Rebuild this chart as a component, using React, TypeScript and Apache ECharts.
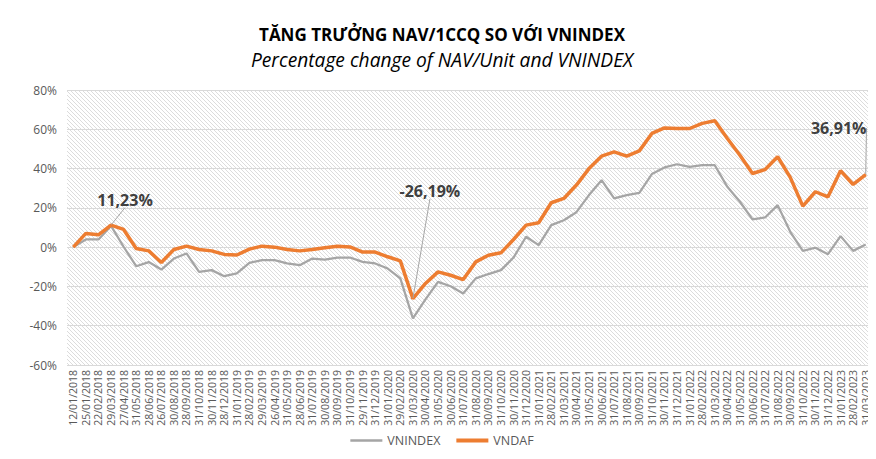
import React, { useEffect, useRef } from "react";
import * as echarts from "echarts";

const categories = [
  "12/01/2018","25/01/2018","22/02/2018","29/03/2018","27/04/2018","31/05/2018","28/06/2018","26/07/2018","30/08/2018","28/09/2018","31/10/2018","30/11/2018","28/12/2018",
  "31/01/2019","28/02/2019","29/03/2019","26/04/2019","31/05/2019","28/06/2019","31/07/2019","30/08/2019","30/09/2019","31/10/2019","29/11/2019","31/12/2019",
  "31/01/2020","29/02/2020","31/03/2020","30/04/2020","31/05/2020","30/06/2020","31/07/2020","31/08/2020","30/09/2020","31/10/2020","30/11/2020","31/12/2020",
  "31/01/2021","28/02/2021","31/03/2021","30/04/2021","31/05/2021","30/06/2021","31/07/2021","31/08/2021","30/09/2021","31/10/2021","30/11/2021","31/12/2021",
  "31/01/2022","28/02/2022","31/03/2022","30/04/2022","31/05/2022","30/06/2022","31/07/2022","31/08/2022","30/09/2022","31/10/2022","30/11/2022","31/12/2022",
  "31/01/2023","28/02/2023","31/03/2023",
];

const vnindex = [
  0, 3.9, 3.9, 10.8, 0.2, -9.7, -7.6, -11.4, -5.8, -3.2,
  -12.6, -11.7, -14.8, -13.4, -8.0, -6.6, -6.6, -8.3, -9.2, -5.8,
  -6.3, -5.3, -5.3, -7.5, -8.3, -10.9, -15.9, -36.3, -26.6, -17.7,
  -19.9, -23.6, -15.9, -13.7, -11.7, -5.3, 5.3, 1.0, 11.2, 13.7,
  17.8, 26.5, 34.1, 24.8, 26.5, 27.6, 37.2, 40.6, 42.2, 40.9,
  41.7, 41.7, 30.7, 23.1, 14.1, 15.1, 21.4, 7.8, -1.9, -0.3,
  -3.6, 5.6, -1.9, 1.4,
];

const vndaf = [
  0, 7.0, 6.3, 11.23, 9.0, -0.7, -1.9, -7.8, -1.2, 0.5,
  -1.2, -1.9, -3.7, -4.0, -1.0, 0.5, 0, -1.2, -1.9, -1.2,
  -0.3, 0.5, 0.1, -2.5, -2.5, -4.9, -7.0, -26.19, -18.5, -12.6,
  -14.3, -16.5, -7.5, -4.1, -2.9, 3.9, 11.2, 12.4, 22.6, 24.8,
  31.6, 40.0, 46.3, 48.5, 46.3, 49.0, 57.9, 60.7, 60.4, 60.4,
  63.0, 64.3, 55.3, 46.8, 37.5, 39.5, 46.0, 35.5, 20.9, 28.2,
  25.6, 38.9, 31.9, 36.91,
];

const labelledIdx = [3, 27, 63];

const yMin = -60;
const yMax = 80;
const yStep = 20;

const labelOffsets: Record<number, [number, number]> = {
  3: [14, -12],
  27: [17, -94],
  63: [-27, -33],
};

function fmt(v: number) {
  return v.toFixed(2).replace(".", ",") + "%";
}

function makePattern(): string {
  const c = document.createElement("canvas");
  c.width = 4;
  c.height = 4;
  const ctx = c.getContext("2d")!;
  ctx.fillStyle = "#ffffff";
  ctx.fillRect(0, 0, 4, 4);
  ctx.strokeStyle = "#dcdcdc";
  ctx.lineWidth = 1;
  ctx.beginPath();
  ctx.moveTo(-1, -1);
  ctx.lineTo(5, 5);
  ctx.moveTo(-1, 3);
  ctx.lineTo(1, 5);
  ctx.moveTo(3, -1);
  ctx.lineTo(5, 1);
  ctx.stroke();
  return c.toDataURL();
}

export default function App() {
  const ref = useRef<HTMLDivElement>(null);
  useEffect(() => {
    if (!ref.current) return;
    const chart = echarts.init(ref.current, null, { renderer: "svg" });
    const font = "'Open Sans', Calibri, sans-serif";
    const vndafData = vndaf.map((v, i) =>
      labelledIdx.includes(i)
        ? {
            value: v,
            symbol: "circle",
            symbolSize: 1,
            label: {
              show: true,
              position: "top",
              formatter: (p: any) => fmt(p.value),
              fontSize: 16,
              fontWeight: "bold",
              color: "#404040",
              fontFamily: font,
            },
            labelLine: { show: true, lineStyle: { color: "#a6a6a6", width: 1 } },
          }
        : v
    );
    chart.setOption({
      animation: false,
      backgroundColor: "#ffffff",
      textStyle: { fontFamily: font },
      title: [
        {
          text: "TĂNG TRƯỞNG NAV/1CCQ SO VỚI VNINDEX",
          left: "center",
          top: 13,
          textStyle: { fontSize: 17, fontWeight: "bold", color: "#000000", fontFamily: font },
        },
        {
          text: "Percentage change of NAV/Unit and VNINDEX",
          left: "center",
          top: 37,
          textStyle: { fontSize: 19.2, fontWeight: "normal", fontStyle: "italic", color: "#000000", fontFamily: font },
        },
      ],
      legend: {
        bottom: 7,
        left: "center",
        itemWidth: 32,
        itemHeight: 10,
        itemGap: 16,
        textStyle: { fontSize: 12.5, color: "#595959", fontFamily: font },
        data: [
          { name: "VNINDEX", icon: "path://M0,0 H32 V2.5 H0 Z" },
          { name: "VNDAF", icon: "path://M0,0 H32 V4 H0 Z" },
        ],
      },
      grid: {
        left: 59,
        right: 4,
        top: 82,
        bottom: 94,
        show: true,
        borderWidth: 0,
        backgroundColor: { image: makePattern(), repeat: "repeat" },
      },
      xAxis: {
        type: "category",
        data: categories,
        boundaryGap: true,
        axisLine: { show: false },
        axisTick: { show: false },
        axisLabel: {
          interval: 0,
          rotate: 90,
          fontSize: 10.5,
          color: "#595959",
          fontFamily: font,
          margin: 5,
        },
      },
      yAxis: {
        type: "value",
        min: yMin,
        max: yMax,
        interval: yStep,
        axisLine: { show: false },
        axisTick: { show: false },
        axisLabel: {
          formatter: "{value}%",
          fontSize: 12,
          color: "#595959",
          fontFamily: font,
          margin: 10,
        },
        splitLine: { lineStyle: { color: "#d9d9d9", width: 1 } },
      },
      series: [
        {
          name: "VNINDEX",
          type: "line",
          data: vnindex,
          symbol: "none",
          lineStyle: { color: "#a5a5a5", width: 2.25 },
          itemStyle: { color: "#a5a5a5" },
          z: 2,
        },
        {
          name: "VNDAF",
          type: "line",
          data: vndafData,
          symbol: "none",
          showSymbol: true,
          lineStyle: { color: "#ed7d31", width: 3.5 },
          itemStyle: { color: "#ed7d31" },
          labelLine: { show: true, lineStyle: { color: "#a6a6a6", width: 1 } },
          labelLayout: (p: any) => {
            const off = labelOffsets[p.dataIndex];
            if (!off) return {};
            return { dx: off[0], dy: off[1] };
          },
          z: 3,
        },
      ],
    });
    return () => chart.dispose();
  }, []);
  return <div ref={ref} style={{ width: 868, height: 451 }} />;
}
